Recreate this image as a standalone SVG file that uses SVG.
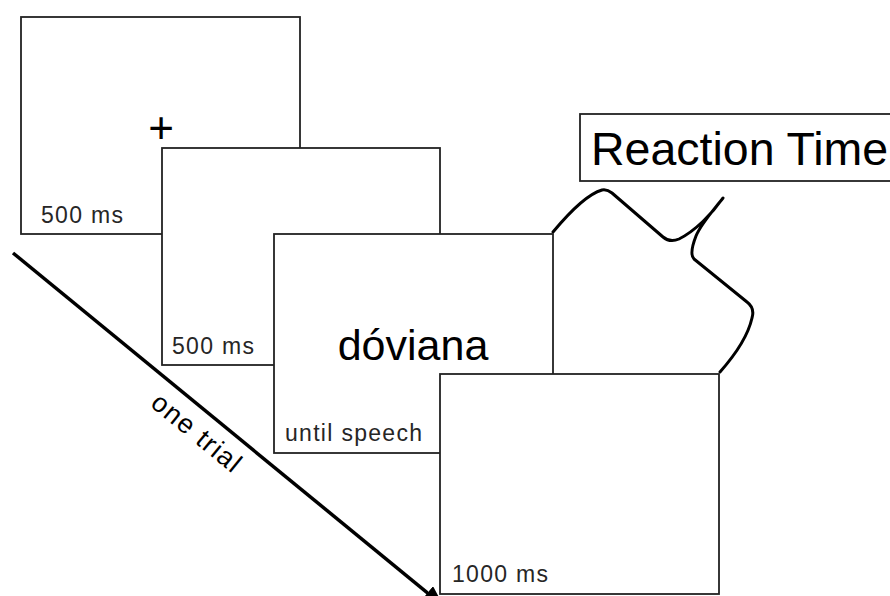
<svg xmlns="http://www.w3.org/2000/svg" width="890" height="596" viewBox="0 0 890 596">
  <style>
    .screen { fill: #ffffff; stroke: #222222; stroke-width: 1.8; }
    .dur { font-family: "Liberation Sans", Arial, sans-serif; font-size: 23px; letter-spacing: 1.3px; fill: #262626; }
    .big { font-family: "Liberation Sans", Arial, sans-serif; fill: #000000; }
    .curve { fill: none; stroke: #000000; stroke-width: 3; stroke-linecap: round; stroke-linejoin: round; }
  </style>
  <defs>
    <marker id="head" markerWidth="6" markerHeight="5" refX="5" refY="2.5" orient="auto" markerUnits="strokeWidth">
      <path d="M0,0 L6,2.5 L0,5 Z" fill="#000000"/>
    </marker>
  </defs>
  <rect width="890" height="596" fill="#ffffff"/>

  <!-- time axis and response-time bracket -->
  <g id="connectors">
    <line x1="13" y1="253" x2="441" y2="604" stroke="#000000" stroke-width="3.5" marker-end="url(#head)"/>
    <path class="curve" d="M553,232 C568,214 588,194 602,190 Q607,189 612,193 L663,237 Q670,243 679,239 C695,231 712,214 723,198 C712,212 701,224 696,236 Q689,254 694,259 L747,302 Q755,308 752,318 C748,336 735,355 720,372"/>
  </g>
  <g id="axis-label">
    <text class="big" font-size="27" letter-spacing="1.4" fill="#1a1a1a" text-anchor="middle" transform="translate(197,433) rotate(39.4)" y="9">one trial</text>
  </g>

  <!-- fixation screen -->
  <g id="screen-fixation">
    <rect class="screen" x="21" y="17" width="279" height="217"/>
    <text class="big" font-size="44" text-anchor="middle" x="161" y="143">+</text>
    <text class="dur" x="41" y="223">500 ms</text>
  </g>

  <!-- blank screen -->
  <g id="screen-blank">
    <rect class="screen" x="162" y="148" width="278" height="217"/>
    <text class="dur" x="172" y="354">500 ms</text>
  </g>

  <!-- target word -->
  <g id="screen-word">
    <rect class="screen" x="274" y="234" width="279" height="219"/>
    <text class="big" font-size="43" fill="#111111" text-anchor="middle" x="413" y="360">dóviana</text>
    <text class="dur" x="285" y="441">until speech</text>
  </g>

  <!-- post-response screen -->
  <g id="screen-post">
    <rect class="screen" x="440" y="374" width="279" height="220"/>
    <text class="dur" x="452" y="582">1000 ms</text>
  </g>

  <!-- reaction time label -->
  <g id="reaction-time">
    <rect class="screen" x="580" y="114" width="320" height="67"/>
    <text class="big" font-size="46.5" x="591" y="165">Reaction Time</text>
  </g>
</svg>
